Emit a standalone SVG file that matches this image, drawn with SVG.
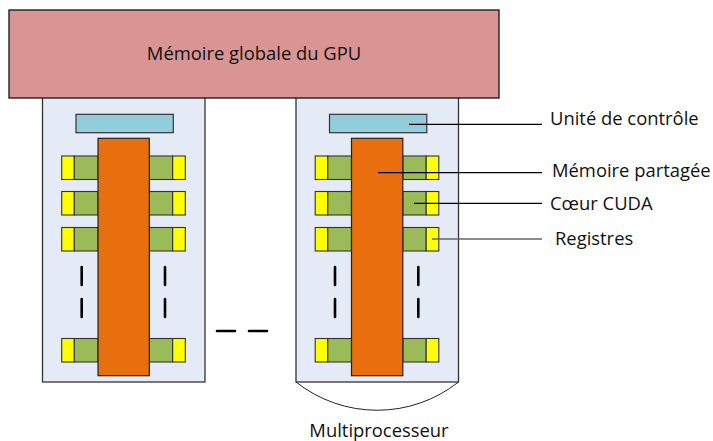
<svg xmlns="http://www.w3.org/2000/svg" width="713" height="441" viewBox="0 0 713 441">
<style>
text{font-family:"Open Sans","Liberation Sans",sans-serif;font-size:18.4px;fill:#111}
.sm{fill:#E5EBF6;stroke:#333;stroke-width:1.3}
.cu{fill:#92CDDC;stroke:#333;stroke-width:1.2}
.sh{fill:#E96F0E;stroke:#222;stroke-width:1.2}
.y{fill:#FFFF00;stroke:#333;stroke-width:1.1}
.g{fill:#9BBB59;stroke:#333;stroke-width:1.1}
.d{stroke:#000;stroke-width:2.6;stroke-linecap:round;fill:none}
.ld{stroke:#000;stroke-width:1.2;fill:none}
</style>
<g id="sm1">
<rect class="sm" x="42.5" y="90" width="162.5" height="292"/>
<rect class="cu" x="76" y="114.3" width="97.3" height="18.4"/>
<rect class="y" x="61.7" y="156" width="12.6" height="23.5"/><rect class="g" x="74.3" y="156" width="23.7" height="23.5"/>
<rect class="g" x="149.3" y="156" width="23.4" height="23.5"/><rect class="y" x="172.7" y="156" width="12.6" height="23.5"/>
<rect class="y" x="61.7" y="191.5" width="12.6" height="23.5"/><rect class="g" x="74.3" y="191.5" width="23.7" height="23.5"/>
<rect class="g" x="149.3" y="191.5" width="23.4" height="23.5"/><rect class="y" x="172.7" y="191.5" width="12.6" height="23.5"/>
<rect class="y" x="61.7" y="227.5" width="12.6" height="23.5"/><rect class="g" x="74.3" y="227.5" width="23.7" height="23.5"/>
<rect class="g" x="149.3" y="227.5" width="23.4" height="23.5"/><rect class="y" x="172.7" y="227.5" width="12.6" height="23.5"/>
<rect class="y" x="61.7" y="338.5" width="12.6" height="23.5"/><rect class="g" x="74.3" y="338.5" width="23.7" height="23.5"/>
<rect class="g" x="149.3" y="338.5" width="23.4" height="23.5"/><rect class="y" x="172.7" y="338.5" width="12.6" height="23.5"/>
<rect class="sh" x="98" y="138.3" width="51.3" height="237.4"/>
<path class="d" d="M81.7 267V285M81.7 299V317M165 267V285M165 299V317"/>
</g>
<g id="sm2">
<rect class="sm" x="296" y="90" width="162.5" height="292"/>
<path d="M296 382A131 131 0 0 0 458.5 382" fill="none" stroke="#222" stroke-width="1"/>
<rect class="cu" x="329.5" y="114.3" width="97.3" height="18.4"/>
<rect class="y" x="315.2" y="156" width="12.6" height="23.5"/><rect class="g" x="327.8" y="156" width="23.7" height="23.5"/>
<rect class="g" x="402.8" y="156" width="23.4" height="23.5"/><rect class="y" x="426.2" y="156" width="12.6" height="23.5"/>
<rect class="y" x="315.2" y="191.5" width="12.6" height="23.5"/><rect class="g" x="327.8" y="191.5" width="23.7" height="23.5"/>
<rect class="g" x="402.8" y="191.5" width="23.4" height="23.5"/><rect class="y" x="426.2" y="191.5" width="12.6" height="23.5"/>
<rect class="y" x="315.2" y="227.5" width="12.6" height="23.5"/><rect class="g" x="327.8" y="227.5" width="23.7" height="23.5"/>
<rect class="g" x="402.8" y="227.5" width="23.4" height="23.5"/><rect class="y" x="426.2" y="227.5" width="12.6" height="23.5"/>
<rect class="y" x="315.2" y="338.5" width="12.6" height="23.5"/><rect class="g" x="327.8" y="338.5" width="23.7" height="23.5"/>
<rect class="g" x="402.8" y="338.5" width="23.4" height="23.5"/><rect class="y" x="426.2" y="338.5" width="12.6" height="23.5"/>
<rect class="sh" x="351.5" y="138.3" width="51.3" height="237.4"/>
<path class="d" d="M335 267V285M335 299V317M418.3 267V285M418.3 299V317"/>
<text x="379" y="437" text-anchor="middle">Multiprocesseur</text>
</g>
<g id="gmem">
<rect x="9" y="10" width="490" height="88" fill="#D99594" stroke="#111" stroke-width="1.3"/>
<text x="254" y="60" text-anchor="middle">Mémoire globale du GPU</text>
</g>
<g id="ellipsis">
<path class="d" d="M217 331H235M249 331H267"/>
</g>
<g id="connectors">
<path class="ld" d="M409 124.3H542"/>
<path class="ld" d="M378 172.7H542"/>
<path class="ld" d="M414 203.3H542"/>
<path d="M432 239H542" stroke="#666" stroke-width="1.6" fill="none"/>
</g>
<g id="labels">
<text x="550" y="125">Unité de contrôle</text>
<text x="552" y="177">Mémoire partagée</text>
<text x="550" y="209.5">Cœur CUDA</text>
<text x="555" y="245">Registres</text>
</g>
</svg>
